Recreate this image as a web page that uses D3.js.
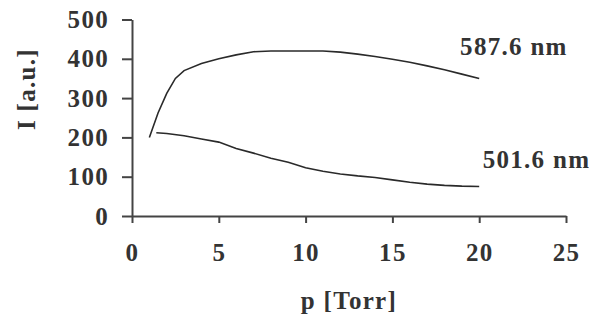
<!DOCTYPE html>
<html>
<head>
<meta charset="utf-8">
<script src="https://cdn.jsdelivr.net/npm/d3@7"></script>
<style>
  body { margin: 0; background: #fff; }
  .axis path, .axis line { stroke: #444; stroke-width: 2; }
</style>
</head>
<body>
<div id="chart"></div>
<script>
// pressure values [Torr] and intensities [a.u.]
var p587 = [1, 1.5, 2, 2.5, 3, 4, 5, 6, 7, 8, 9, 10, 11, 12, 13, 14, 15, 16, 17, 18, 19, 20];
var i587 = [200, 262, 312, 350, 370, 388, 400, 410, 418, 420, 420, 420, 420, 417, 412, 406, 399, 391, 382, 372, 361, 350];

var p501 = [1.4, 2, 3, 4, 5, 6, 7, 8, 9, 10, 11, 12, 13, 14, 15, 16, 17, 18, 19, 20];
var i501 = [212, 210, 204, 196, 188, 172, 160, 147, 137, 123, 114, 107, 102, 98, 92, 86, 81, 78, 76, 75];

var seriesNames = ["587.6 nm", "501.6 nm"];
var xTicks = [0, 5, 10, 15, 20, 25];
var yTicks = [0, 100, 200, 300, 400, 500];

var width = 589, height = 317;
var margin = {top: 19.5, right: 23, bottom: 101, left: 132};
var font = "'Liberation Serif', 'Times New Roman', serif";

var svg = d3.select("#chart").append("svg")
    .attr("width", width)
    .attr("height", height);

function styleText(sel) {
  sel.style("font-family", font)
     .style("font-weight", "bold")
     .style("font-size", "25px")
     .style("letter-spacing", "1.3px")
     .style("fill", "#333");
}

var x = d3.scaleLinear().domain([0, 25]).range([margin.left, width - margin.right]);
var y = d3.scaleLinear().domain([0, 500]).range([height - margin.bottom, margin.top]);

// y axis
var gy = svg.append("g")
    .attr("class", "axis")
    .attr("transform", "translate(" + margin.left + ",0)")
    .call(d3.axisLeft(y).tickValues(yTicks).tickSize(10).tickSizeOuter(0).tickPadding(13));
gy.selectAll("text").call(styleText);

// x axis
var gx = svg.append("g")
    .attr("class", "axis")
    .attr("transform", "translate(0," + y(0) + ")")
    .call(d3.axisBottom(x).tickValues(xTicks).tickSize(7).tickSizeOuter(0).tickPadding(20));
gx.selectAll("text").call(styleText);

// curves
var line = d3.line()
    .x(function(d) { return x(d[0]); })
    .y(function(d) { return y(d[1]); });

var curves = [d3.zip(p587, i587), d3.zip(p501, i501)];
svg.selectAll(".curve")
    .data(curves)
  .enter().append("path")
    .attr("class", "curve")
    .attr("fill", "none")
    .attr("stroke", "#2a2a2a")
    .attr("stroke-width", 1.6)
    .attr("d", line);

// series labels
svg.append("text")
    .attr("x", x(18.9)).attr("y", y(410))
    .call(styleText)
    .text(seriesNames[0]);
svg.append("text")
    .attr("x", x(20.2)).attr("y", y(122))
    .call(styleText)
    .text(seriesNames[1]);

// axis titles
svg.append("text")
    .attr("x", (x(0) + x(25)) / 2)
    .attr("y", 309)
    .attr("text-anchor", "middle")
    .call(styleText)
    .text("p [Torr]");

svg.append("text")
    .attr("transform", "translate(35," + 89 + ") rotate(-90)")
    .attr("text-anchor", "middle")
    .call(styleText)
    .text("I [a.u.]");
</script>
</body>
</html>
